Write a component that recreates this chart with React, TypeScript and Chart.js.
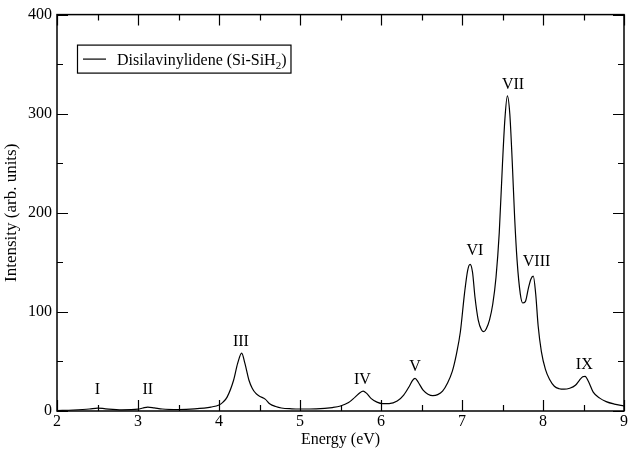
import React, { useEffect, useRef } from "react";
import { Chart, registerables } from "chart.js";

Chart.register(...registerables);

// Absorption spectrum of disilavinylidene (Si-SiH2)
const energy = [
  2.0, 2.2, 2.4, 2.5, 2.6, 2.8, 3.0, 3.06, 3.12, 3.2, 3.3, 3.5, 3.7, 3.9,
  4.0, 4.05, 4.1, 4.18, 4.23, 4.28, 4.32, 4.37, 4.41, 4.455, 4.5, 4.57, 4.63,
  4.7, 4.77, 4.9, 5.0, 5.2, 5.4, 5.5, 5.6, 5.68, 5.74, 5.78, 5.82, 5.88,
  5.95, 6.02, 6.1, 6.2, 6.28, 6.35, 6.39, 6.42, 6.46, 6.52, 6.58, 6.64, 6.7,
  6.76, 6.82, 6.88, 6.93, 6.98, 7.03, 7.07, 7.1, 7.13, 7.16, 7.2, 7.24, 7.27,
  7.3, 7.34, 7.38, 7.42, 7.46, 7.5, 7.53, 7.56, 7.59, 7.62, 7.65, 7.68, 7.72,
  7.75, 7.78, 7.82, 7.85, 7.88, 7.91, 7.94, 7.98, 8.03, 8.08, 8.14, 8.2, 8.26,
  8.33, 8.4, 8.45, 8.49, 8.52, 8.56, 8.62, 8.7, 8.78, 8.88, 9.0,
];

const intensity = [
  0.5, 1, 2, 3, 2.2, 1.2, 1.8, 3, 4, 3.2, 2, 1.5, 2.2, 4,
  6, 9, 14, 31, 48, 58.5, 48, 31, 23, 17.7, 15, 12, 7,
  4.5, 3, 2.2, 2, 2.2, 3.5, 5, 8.5, 14, 18.5, 20, 18, 12.5,
  9, 7.5, 7.5, 10, 16, 25, 31, 33, 29, 21, 17, 15.5, 16.5,
  20, 28, 40, 57, 80, 118, 142, 148, 140, 115, 92, 82, 80,
  83, 92, 108, 135, 180, 250, 295, 318, 300, 252, 195, 152, 118,
  109, 110, 124, 133, 136, 118, 86, 60, 42, 32, 25, 22.5, 22,
  23, 26, 31, 34.5, 35, 30, 19, 13, 9.5, 7, 5,
];

// Peak annotations
const peakNames = ["I", "II", "III", "IV", "V", "VI", "VII", "VIII", "IX"];
const peakNameX = [2.5, 3.12, 4.27, 5.77, 6.42, 7.16, 7.63, 7.92, 8.51];
const peakNameY = [21, 21, 70, 31, 45, 162, 329, 151, 47];

const xTicks = [2, 3, 4, 5, 6, 7, 8, 9];
const yTicks = [0, 100, 200, 300, 400];

const seriesName = "Disilavinylidene (Si-SiH";
const seriesSub = "2";

const SERIF = "'Liberation Serif', 'Times New Roman', serif";

const framePlugin = {
  id: "frameAndNotes",
  afterDraw(chart: any) {
    const ctx = chart.ctx as CanvasRenderingContext2D;
    const { left, right, top, bottom } = chart.chartArea;
    const xs = chart.scales.x;
    const ys = chart.scales.y;
    ctx.save();
    ctx.strokeStyle = "#000";
    ctx.lineWidth = 1.5;
    ctx.strokeRect(left, top, right - left, bottom - top);

    // inward ticks on all four sides
    ctx.lineWidth = 1.2;
    ctx.beginPath();
    for (let v = 2; v <= 9.001; v += 0.5) {
      const major = Math.abs(v - Math.round(v)) < 1e-6;
      const len = major ? 11 : 6;
      const px = Math.round(xs.getPixelForValue(v)) + 0.5;
      ctx.moveTo(px, bottom);
      ctx.lineTo(px, bottom - len);
      ctx.moveTo(px, top);
      ctx.lineTo(px, top + len);
    }
    for (let v = 0; v <= 400.001; v += 50) {
      const major = v % 100 === 0;
      const len = major ? 11 : 6;
      const py = Math.round(ys.getPixelForValue(v)) + 0.5;
      ctx.moveTo(left, py);
      ctx.lineTo(left + len, py);
      ctx.moveTo(right, py);
      ctx.lineTo(right - len, py);
    }
    ctx.stroke();

    // peak labels
    ctx.fillStyle = "#000";
    ctx.font = `16px ${SERIF}`;
    ctx.textAlign = "center";
    ctx.textBaseline = "middle";
    peakNames.forEach((name, i) => {
      ctx.fillText(
        name,
        xs.getPixelForValue(peakNameX[i]),
        ys.getPixelForValue(peakNameY[i])
      );
    });

    // legend box
    const bx = left + 20;
    const by = top + 30;
    ctx.font = `16px ${SERIF}`;
    ctx.textAlign = "left";
    ctx.textBaseline = "alphabetic";
    const mainW = ctx.measureText(seriesName).width;
    ctx.font = `11px ${SERIF}`;
    const subW = ctx.measureText(seriesSub).width;
    ctx.font = `16px ${SERIF}`;
    const closeW = ctx.measureText(")").width;
    const textX = bx + 40;
    const boxW = textX - bx + mainW + subW + closeW + 4;
    ctx.lineWidth = 1.2;
    ctx.strokeRect(bx + 0.5, by + 0.5, boxW, 28);
    ctx.beginPath();
    ctx.moveTo(bx + 6, by + 14.5);
    ctx.lineTo(bx + 29, by + 14.5);
    ctx.stroke();
    const base = by + 20;
    ctx.fillText(seriesName, textX, base);
    ctx.font = `11px ${SERIF}`;
    ctx.fillText(seriesSub, textX + mainW, base + 4);
    ctx.font = `16px ${SERIF}`;
    ctx.fillText(")", textX + mainW + subW, base);
    ctx.restore();
  },
};

export default function App() {
  const canvasRef = useRef<HTMLCanvasElement | null>(null);

  useEffect(() => {
    if (!canvasRef.current) return;
    const points = energy.map((e, i) => ({ x: e, y: intensity[i] }));
    const chart = new Chart(canvasRef.current, {
      type: "line",
      data: {
        datasets: [
          {
            label: seriesName + seriesSub + ")",
            data: points,
            borderColor: "#000",
            borderWidth: 1.2,
            pointRadius: 0,
            fill: false,
            cubicInterpolationMode: "monotone",
          },
        ],
      },
      options: {
        responsive: false,
        animation: false,
        layout: { padding: { left: 0, right: 1, top: 12, bottom: 0 } },
        plugins: {
          legend: { display: false },
          tooltip: { enabled: false },
        },
        scales: {
          x: {
            type: "linear",
            min: 2,
            max: 9,
            afterBuildTicks: (scale: any) => {
              scale.ticks = xTicks.map((v) => ({ value: v }));
            },
            afterFit: (scale: any) => {
              scale.height = 38;
            },
            grid: { display: false, drawTicks: false },
            border: { display: false },
            ticks: {
              color: "#000",
              padding: 1,
              maxRotation: 0,
              font: { family: SERIF, size: 16 },
            },
            title: {
              display: true,
              text: "Energy (eV)",
              color: "#000",
              padding: { top: 0, bottom: 0 },
              font: { family: SERIF, size: 16 },
            },
          },
          y: {
            type: "linear",
            min: 0,
            max: 400,
            afterBuildTicks: (scale: any) => {
              scale.ticks = yTicks.map((v) => ({ value: v }));
            },
            afterFit: (scale: any) => {
              scale.width = 57;
            },
            grid: { display: false, drawTicks: false },
            border: { display: false },
            ticks: {
              color: "#000",
              padding: 5,
              font: { family: SERIF, size: 16 },
            },
            title: {
              display: true,
              text: "Intensity (arb. units)",
              color: "#000",
              padding: { top: 1, bottom: 0 },
              font: { family: SERIF, size: 17 },
            },
          },
        },
      },
      plugins: [framePlugin],
    });
    return () => chart.destroy();
  }, []);

  return (
    <div style={{ position: "absolute", left: 0, top: 0, width: 629, height: 449, background: "#fff" }}>
      <canvas ref={canvasRef} width={629} height={449} />
    </div>
  );
}
